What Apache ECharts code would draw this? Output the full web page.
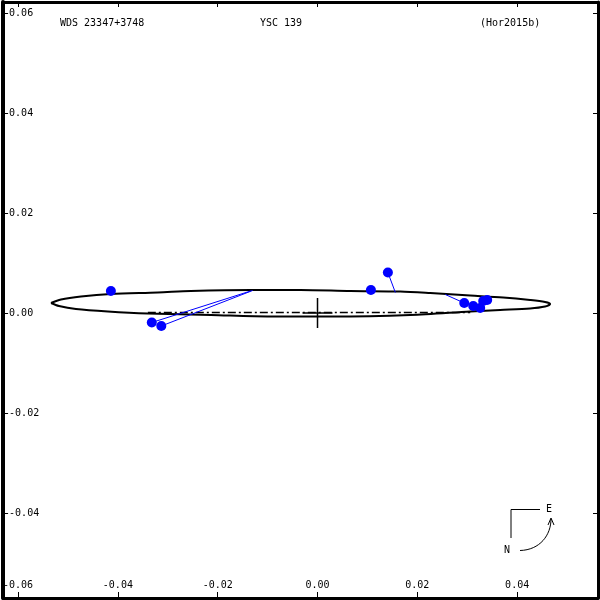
<!DOCTYPE html>
<html><head><meta charset="utf-8">
<script src="https://cdn.jsdelivr.net/npm/echarts@6/dist/echarts.min.js"></script>
<style>html,body{margin:0;padding:0;background:#fff}#c{width:600px;height:600px}</style>
</head><body><div id="c"></div>
<script>
// Tick labels
const xTicks = [-0.06, -0.04, -0.02, 0.00, 0.02, 0.04];
const yTicks = [0.06, 0.04, 0.02, 0.00, -0.02, -0.04];
// Apparent orbit (ellipse)
const ellipseX = [-0.0534,-0.0514,-0.0474,-0.0414,-0.0320,-0.0254,-0.0134,-0.0034,0.0066,0.0166,0.0226,0.0306,0.0372,0.0426,0.0456,0.0466,0.0456,0.0426,0.0366,0.0306,0.0186,0.0026,-0.0094,-0.0214,-0.0340,-0.0420,-0.0484,-0.0518,-0.0534];
const ellipseY = [0.0020,0.0027,0.0033,0.0038,0.0041,0.0044,0.0046,0.0046,0.0044,0.0043,0.0040,0.0035,0.0031,0.0026,0.0022,0.0018,0.0013,0.0009,0.0006,0.0003,-0.0004,-0.0007,-0.0007,-0.0004,-0.0001,0.0003,0.0008,0.0014,0.0020];
// Line of nodes
const nodesX = [-0.0340, 0.0306];
const nodesY = [0.0001, 0.0001];
// Observations and their predicted positions (O-C lines)
const obsX  = [-0.0414, -0.0332, -0.0313, 0.0107, 0.0141, 0.0294, 0.0312, 0.0326, 0.0332, 0.0340];
const obsY  = [ 0.0044, -0.0019, -0.0026, 0.0046, 0.0081, 0.0020, 0.0014, 0.0010, 0.0024, 0.0026];
const predX = [-0.0414, -0.0134, -0.0130, 0.0110, 0.0156, 0.0256, 0.0312, 0.0326, 0.0332, 0.0340];
const predY = [ 0.0040,  0.0044,  0.0045, 0.0044, 0.0041, 0.0037, 0.0014, 0.0010, 0.0024, 0.0026];
// Primary star cross
const crossHalf = 0.003;

const toPairs = (xs, ys) => xs.map((x, i) => [x, ys[i]]);
const fmt = v => v.toFixed(2);
const FONT = 'DejaVu Sans Mono';

const chart = echarts.init(document.getElementById('c'), null, {renderer: 'canvas'});
const L = 2, T = 2, W = 596, H = 596;
const xMin = (L - 317) / 5000, xMax = (L + W - 317) / 5000;
const yMax = (313 - T) / 5000, yMin = (313 - T - H) / 5000;

const axisLine = {show: true, onZero: false, lineStyle: {color: '#000', width: 3}};
const tickStyle = {color: '#000', width: 1};

chart.setOption({
  animation: false,
  backgroundColor: '#fff',
  grid: {left: L, top: T, width: W, height: H, containLabel: false},
  xAxis: [
    {type: 'value', min: xMin, max: xMax, position: 'bottom', axisLine,
     splitLine: {show: false},
     axisTick: {show: true, inside: true, length: 6, lineStyle: tickStyle, customValues: xTicks},
     axisLabel: {show: true, inside: true, margin: 8, color: '#000', fontFamily: FONT, fontSize: 10,
                 customValues: xTicks, formatter: fmt}},
    {type: 'value', min: xMin, max: xMax, position: 'top', axisLine,
     splitLine: {show: false},
     axisTick: {show: true, inside: true, length: 5, lineStyle: tickStyle, customValues: xTicks},
     axisLabel: {show: false}}
  ],
  yAxis: [
    {type: 'value', min: yMin, max: yMax, position: 'left',
     axisLine: {show: true, onZero: false, lineStyle: {color: '#000', width: 4}},
     splitLine: {show: false},
     axisTick: {show: true, inside: true, length: 5, lineStyle: tickStyle, customValues: yTicks},
     axisLabel: {show: true, inside: true, margin: 6, color: '#000', fontFamily: FONT, fontSize: 10,
                 customValues: yTicks, formatter: fmt}},
    {type: 'value', min: yMin, max: yMax, position: 'right', axisLine,
     splitLine: {show: false},
     axisTick: {show: true, inside: true, length: 5, lineStyle: tickStyle, customValues: yTicks},
     axisLabel: {show: false}}
  ],
  series: [
    {type: 'line', data: toPairs(ellipseX, ellipseY), smooth: 0.3, symbol: 'none',
     lineStyle: {color: '#000', width: 2}, z: 2},
    {type: 'line', data: toPairs(nodesX, nodesY), symbol: 'none',
     lineStyle: {color: '#000', width: 1.5, type: [8, 3, 2, 3]}, z: 2},
    {type: 'line', data: [[-crossHalf, 0], [crossHalf, 0]], symbol: 'none',
     lineStyle: {color: '#000', width: 1.5}, z: 3},
    {type: 'line', data: [[0, -crossHalf], [0, crossHalf]], symbol: 'none',
     lineStyle: {color: '#000', width: 1.5}, z: 3},
    {type: 'lines', coordinateSystem: 'cartesian2d',
     data: obsX.map((x, i) => ({coords: [[x, obsY[i]], [predX[i], predY[i]]]})),
     lineStyle: {color: '#0000ff', width: 1, opacity: 1}, z: 4},
    {type: 'scatter', data: toPairs(obsX, obsY), symbol: 'circle', symbolSize: 10,
     itemStyle: {color: '#0000ff', opacity: 1}, z: 5}
  ],
  graphic: [
    {type: 'text', left: 60, top: 18, style: {text: 'WDS 23347+3748', font: '10px "DejaVu Sans Mono"', fill: '#000'}},
    {type: 'text', left: 260, top: 18, style: {text: 'YSC 139', font: '10px "DejaVu Sans Mono"', fill: '#000'}},
    {type: 'text', left: 480, top: 18, style: {text: '(Hor2015b)', font: '10px "DejaVu Sans Mono"', fill: '#000'}},
    // compass
    {type: 'polyline', shape: {points: [[511, 538], [511, 509.5], [540, 509.5]]}, style: {stroke: '#000', lineWidth: 1, fill: null}},
    {type: 'text', x: 546, y: 504, style: {text: 'E', font: '10px "DejaVu Sans Mono"', fill: '#000'}},
    {type: 'text', x: 504, y: 545, style: {text: 'N', font: '10px "DejaVu Sans Mono"', fill: '#000'}},
    {type: 'bezierCurve', shape: {x1: 520, y1: 550.5, x2: 551, y2: 519, cpx1: 540, cpy1: 550, cpx2: 551, cpy2: 535},
     style: {stroke: '#000', lineWidth: 1, fill: null}},
    {type: 'polyline', shape: {points: [[548, 525], [551, 518], [554, 525]]}, style: {stroke: '#000', lineWidth: 1, fill: null}}
  ]
});
</script></body></html>
